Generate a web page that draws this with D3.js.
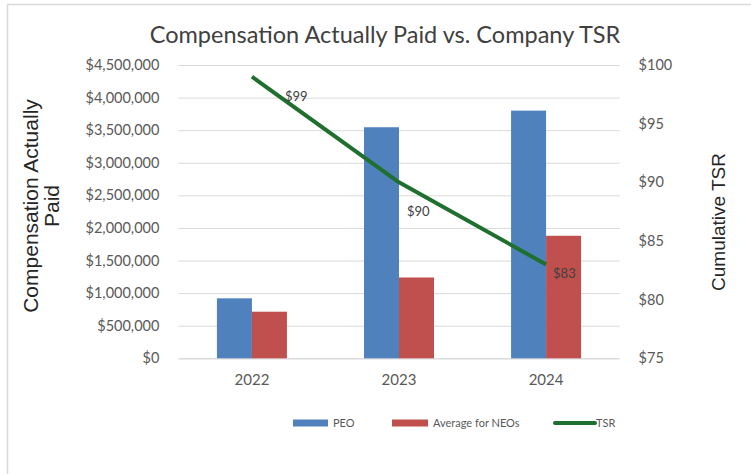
<!DOCTYPE html>
<html>
<head>
<meta charset="utf-8">
<script src="https://cdn.jsdelivr.net/npm/d3@7/dist/d3.min.js"></script>
<style>
  html, body { margin: 0; padding: 0; background: #fff; }
  svg { display: block; }
</style>
</head>
<body>
<svg id="chart" width="751" height="474"></svg>
<script>
// Data
const years = ["2022", "2023", "2024"];
const peo = [920000, 3545000, 3800000];
const neoAverage = [715000, 1240000, 1880000];
const tsr = [99, 90, 83];
const tsrLabels = ["$99", "$90", "$83"];
const seriesNames = ["PEO", "Average for NEOs", "TSR"];
const leftTicks = [0, 500000, 1000000, 1500000, 2000000, 2500000, 3000000, 3500000, 4000000, 4500000];
const rightTicks = [75, 80, 85, 90, 95, 100];

const colors = { peo: "#4f81bd", neo: "#c0504d", tsr: "#1f6f2f" };
const calibriLike = "Lato, 'Open Sans', sans-serif";
const arialLike = "'Liberation Sans', Arial, sans-serif";

const svg = d3.select("#chart");

// Outer chart frame (top and left edges)
svg.append("line").attr("x1", 7.5).attr("x2", 751).attr("y1", 4.5).attr("y2", 4.5)
  .attr("stroke", "#d9d9d9").attr("stroke-width", 1.5);
svg.append("line").attr("x1", 7.5).attr("x2", 7.5).attr("y1", 4.5).attr("y2", 474)
  .attr("stroke", "#d9d9d9").attr("stroke-width", 1.5);

const plot = { left: 178.4, right: 619.6, top: 65, bottom: 358.3 };

const x = d3.scaleBand().domain(years).range([plot.left, plot.right])
  .paddingInner(0.524).paddingOuter(0.262);
const xs = d3.scaleBand().domain(["peo", "neo"]).range([0, x.bandwidth()]);
const yL = d3.scaleLinear().domain([0, 4500000]).range([plot.bottom, plot.top]);
const yR = d3.scaleLinear().domain([75, 100]).range([plot.bottom, plot.top]);

const money = v => "$" + d3.format(",")(v);

// Gridlines + left axis
const leftAxis = d3.axisLeft(yL).tickValues(leftTicks).tickFormat(money)
  .tickSize(-(plot.right - plot.left)).tickPadding(19);
const gL = svg.append("g").attr("transform", `translate(${plot.left},0)`).call(leftAxis);
gL.select(".domain").remove();
gL.selectAll(".tick line").attr("stroke", "#d9d9d9").attr("stroke-width", 1);
gL.selectAll(".tick text").attr("fill", "#595959")
  .style("font-family", calibriLike).style("font-size", "14.5px");

// Right axis (labels only)
const rightAxis = d3.axisRight(yR).tickValues(rightTicks).tickFormat(d => "$" + d)
  .tickSize(0).tickPadding(19);
const gR = svg.append("g").attr("transform", `translate(${plot.right},0)`).call(rightAxis);
gR.select(".domain").remove();
gR.selectAll(".tick text").attr("fill", "#595959")
  .style("font-family", calibriLike).style("font-size", "14.5px");

// Bottom axis
const bottomAxis = d3.axisBottom(x).tickSize(0).tickPadding(16);
const gB = svg.append("g").attr("transform", `translate(0,${plot.bottom})`).call(bottomAxis);
gB.select(".domain").attr("stroke", "#d9d9d9").attr("d", `M${plot.left},0.5H${plot.right}`);
gB.selectAll(".tick text").attr("fill", "#595959")
  .style("font-family", calibriLike).style("font-size", "15px");

// Bars
const groups = svg.append("g").selectAll("g").data(years).join("g")
  .attr("transform", d => `translate(${x(d)},0)`);
groups.append("rect")
  .attr("x", xs("peo")).attr("width", xs.bandwidth())
  .attr("y", (d, i) => yL(peo[i])).attr("height", (d, i) => yL(0) - yL(peo[i]))
  .attr("fill", colors.peo);
groups.append("rect")
  .attr("x", xs("neo")).attr("width", xs.bandwidth())
  .attr("y", (d, i) => yL(neoAverage[i])).attr("height", (d, i) => yL(0) - yL(neoAverage[i]))
  .attr("fill", colors.neo);

// TSR line
const cx = d => x(d) + x.bandwidth() / 2;
const line = d3.line().x((d, i) => cx(years[i])).y(d => yR(d));
svg.append("path").datum(tsr).attr("d", line)
  .attr("fill", "none").attr("stroke", colors.tsr).attr("stroke-width", 4)
  .attr("stroke-linejoin", "round");

// TSR data labels, placed beside each point
const labelOffsets = [[33, 20], [8, 29], [7, 9]];
svg.append("g").selectAll("text").data(tsr).join("text")
  .attr("x", (d, i) => cx(years[i]) + labelOffsets[i][0])
  .attr("y", (d, i) => yR(d) + labelOffsets[i][1])
  .attr("dy", "0.35em")
  .attr("fill", "#404040")
  .style("font-family", calibriLike).style("font-size", "13px")
  .text((d, i) => tsrLabels[i]);

// Title
svg.append("text").attr("x", 385).attr("y", 43).attr("text-anchor", "middle")
  .attr("fill", "#404040").style("font-family", calibriLike).style("font-size", "23.5px")
  .text("Compensation Actually Paid vs. Company TSR");

// Left axis title (two lines)
const lt = svg.append("text").attr("transform", "translate(38,206) rotate(-90)")
  .attr("text-anchor", "middle").attr("fill", "#262626")
  .style("font-family", arialLike).style("font-size", "21px");
lt.append("tspan").attr("x", 0).attr("y", 0).text("Compensation Actually");
lt.append("tspan").attr("x", 0).attr("y", 21).text("Paid");

// Right axis title
svg.append("text").attr("transform", "translate(725,222) rotate(-90)")
  .attr("text-anchor", "middle").attr("fill", "#262626")
  .style("font-family", arialLike).style("font-size", "19px")
  .text("Cumulative TSR");

// Legend
const legend = svg.append("g").style("font-family", calibriLike).style("font-size", "11px");
const legendItems = [
  { name: seriesNames[0], x: 293, w: 35, kind: "rect", color: colors.peo },
  { name: seriesNames[1], x: 392, w: 36, kind: "rect", color: colors.neo },
  { name: seriesNames[2], x: 555, w: 40, kind: "line", color: colors.tsr }
];
const ly = 423;
legendItems.forEach(it => {
  if (it.kind === "rect") {
    legend.append("rect").attr("x", it.x).attr("y", ly - 3.5).attr("width", it.w).attr("height", 7)
      .attr("fill", it.color);
  } else {
    legend.append("line").attr("x1", it.x).attr("x2", it.x + it.w).attr("y1", ly).attr("y2", ly)
      .attr("stroke", it.color).attr("stroke-width", 4).attr("stroke-linecap", "round");
  }
  legend.append("text").attr("x", it.x + it.w + (it.kind === "rect" ? 5 : 1)).attr("y", ly)
    .attr("dy", "0.35em").attr("fill", "#595959").text(it.name);
});
</script>
</body>
</html>
